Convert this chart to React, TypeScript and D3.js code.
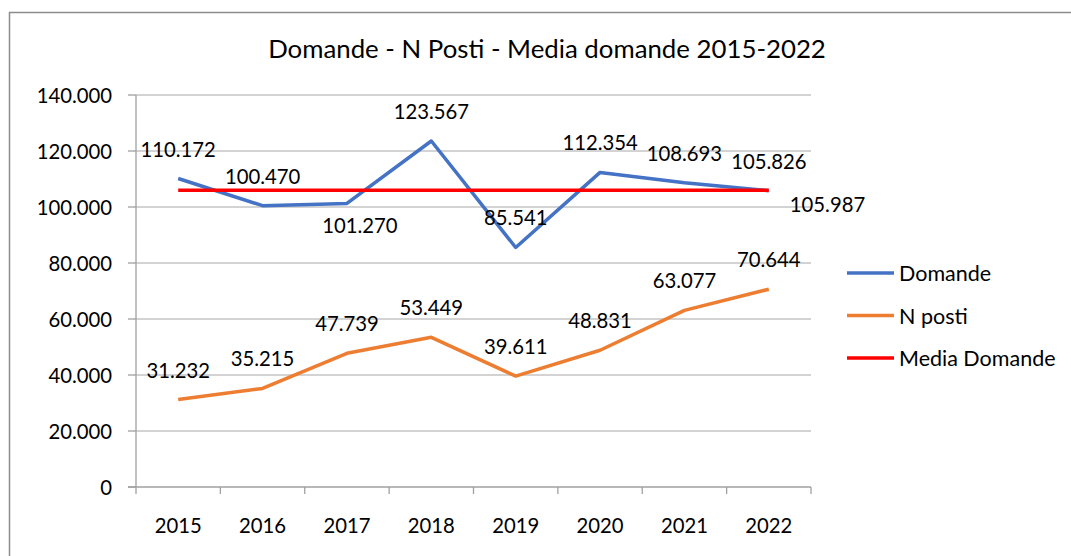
import React from "react";
import * as d3 from "d3";

const years = ["2015", "2016", "2017", "2018", "2019", "2020", "2021", "2022"];
const domande = [110172, 100470, 101270, 123567, 85541, 112354, 108693, 105826];
const nPosti = [31232, 35215, 47739, 53449, 39611, 48831, 63077, 70644];
const mediaDomande = 105987;
const yTicks = [0, 20000, 40000, 60000, 80000, 100000, 120000, 140000];
const seriesNames = ["Domande", "N posti", "Media Domande"];
const seriesColors = ["#4472C4", "#ED7D31", "#FF0000"];
const title = "Domande - N Posti - Media domande 2015-2022";
// label placement for each Domande point
const domandeLabelPlace = ["above", "above", "belowRight", "above", "above", "above", "above", "above"];

const W = 1071;
const H = 556;
const FONT = "Lato, 'Open Sans', sans-serif";
const LABEL_SIZE = 20.3;

const locale = d3.formatLocale({ decimal: ",", thousands: ".", grouping: [3], currency: ["€", ""] });
const fmt = locale.format(",");

export default function App() {
  const plotL = 136, plotR = 811, plotT = 95, plotB = 487;
  const x = d3.scaleBand<string>().domain(years).range([plotL, plotR]).padding(0);
  const y = d3.scaleLinear().domain([0, 140000]).range([plotB, plotT]);
  const cx = (yr: string) => (x(yr) as number) + x.bandwidth() / 2;

  const line = d3
    .line<number>()
    .x((_, i) => cx(years[i]))
    .y((d) => y(d));

  const mediaVals = years.map(() => mediaDomande);

  const labelPos = (px: number, py: number, place: string) => {
    if (place === "belowRight") return { x: px + 13, y: py + 22, anchor: "middle" };
    if (place === "right") return { x: px + 21, y: py + 14, anchor: "start" };
    return { x: px, y: py - 30, anchor: "middle" };
  };

  const legendX = 847, legendY0 = 273, legendStep = 42.5;

  return (
    <svg
      width={W}
      height={H}
      style={{ position: "absolute", left: 0, top: 0, background: "#fff" }}
      fontFamily={FONT}
      fontWeight={400}
    >
      <rect x={0} y={0} width={W} height={H} fill="#fff" />
      <rect x={9.5} y={12.5} width={W + 10} height={H + 10} fill="none" stroke="#8c8c8c" strokeWidth={1.5} />
      <text x={547} y={48} textAnchor="middle" dominantBaseline="central" fontSize={25.8} fill="#000">
        {title}
      </text>

      {/* gridlines */}
      {yTicks.map((t) =>
        t === 0 ? null : (
          <line key={"g" + t} x1={plotL} x2={plotR} y1={y(t)} y2={y(t)} stroke="#C4C4C4" strokeWidth={1.3} />
        )
      )}
      {/* y axis */}
      <line x1={plotL} x2={plotL} y1={plotT} y2={plotB} stroke="#A0A0A0" strokeWidth={1.3} />
      {yTicks.map((t) => (
        <g key={"yt" + t}>
          <line x1={plotL - 8} x2={plotL} y1={y(t)} y2={y(t)} stroke="#A0A0A0" strokeWidth={1.3} />
          <text x={112} y={y(t)} textAnchor="end" dominantBaseline="central" fontSize={LABEL_SIZE} fill="#000">
            {fmt(t)}
          </text>
        </g>
      ))}
      {/* x axis */}
      <line x1={plotL - 8} x2={plotR} y1={plotB} y2={plotB} stroke="#A0A0A0" strokeWidth={1.3} />
      {years.map((yr) => (
        <line key={"xt" + yr} x1={x(yr)} x2={x(yr)} y1={plotB} y2={plotB + 7} stroke="#A0A0A0" strokeWidth={1.3} />
      ))}
      <line x1={plotR} x2={plotR} y1={plotB} y2={plotB + 7} stroke="#A0A0A0" strokeWidth={1.3} />
      {years.map((yr) => (
        <text key={"xl" + yr} x={cx(yr)} y={525} textAnchor="middle" dominantBaseline="central" fontSize={LABEL_SIZE} fill="#000">
          {yr}
        </text>
      ))}

      {/* series */}
      <path d={line(domande) || ""} fill="none" stroke={seriesColors[0]} strokeWidth={3.5} strokeLinejoin="round" />
      <path d={line(nPosti) || ""} fill="none" stroke={seriesColors[1]} strokeWidth={3.5} strokeLinejoin="round" />
      <path d={line(mediaVals) || ""} fill="none" stroke={seriesColors[2]} strokeWidth={3.5} />

      {/* labels */}
      {domande.map((v, i) => {
        const p = labelPos(cx(years[i]), y(v), domandeLabelPlace[i]);
        return (
          <text key={"dl" + i} x={p.x} y={p.y} textAnchor={p.anchor} dominantBaseline="central" fontSize={LABEL_SIZE} fill="#000">
            {fmt(v)}
          </text>
        );
      })}
      {nPosti.map((v, i) => {
        const p = labelPos(cx(years[i]), y(v), "above");
        return (
          <text key={"nl" + i} x={p.x} y={p.y} textAnchor={p.anchor} dominantBaseline="central" fontSize={LABEL_SIZE} fill="#000">
            {fmt(v)}
          </text>
        );
      })}
      {(() => {
        const last = years.length - 1;
        const p = labelPos(cx(years[last]), y(mediaVals[last]), "right");
        return (
          <text x={p.x} y={p.y} textAnchor={p.anchor} dominantBaseline="central" fontSize={LABEL_SIZE} fill="#000">
            {fmt(mediaDomande)}
          </text>
        );
      })()}

      {/* legend */}
      {seriesNames.map((n, i) => (
        <g key={"lg" + n}>
          <line x1={legendX} x2={legendX + 47} y1={legendY0 + i * legendStep} y2={legendY0 + i * legendStep} stroke={seriesColors[i]} strokeWidth={3.5} />
          <text x={legendX + 52} y={legendY0 + i * legendStep} dominantBaseline="central" fontSize={21.5} fill="#000">
            {n}
          </text>
        </g>
      ))}
    </svg>
  );
}
